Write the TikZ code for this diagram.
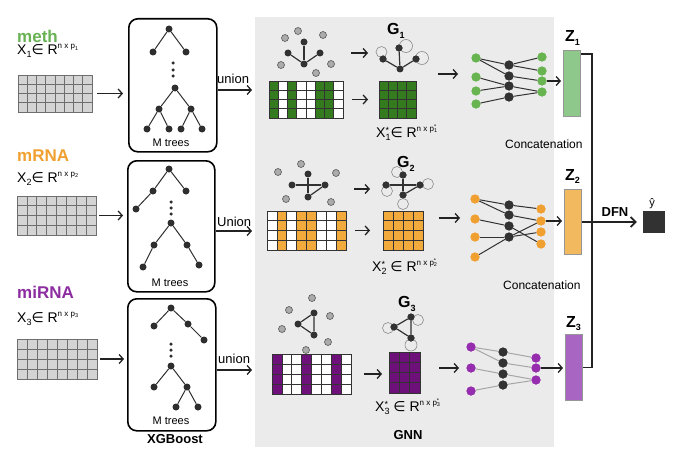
\documentclass[tikz,border=0pt]{standalone}
\usepackage{fontspec}
\setmainfont{Liberation Sans}
\newfontfamily\djv{DejaVu Sans}
\usetikzlibrary{arrows.meta}
\definecolor{treec}{RGB}{46,46,46}
\definecolor{arrc}{RGB}{34,34,34}
\definecolor{methc}{RGB}{104,178,84}
\definecolor{mrnac}{RGB}{240,160,48}
\definecolor{mirnac}{RGB}{140,44,160}
\definecolor{gridfill}{RGB}{212,212,212}
\definecolor{gridline}{RGB}{110,110,110}
\definecolor{panelc}{RGB}{235,235,235}
\definecolor{gmat}{RGB}{52,122,30}
\definecolor{omat}{RGB}{242,170,60}
\definecolor{pmat}{RGB}{110,16,122}
\definecolor{gnodec}{RGB}{104,180,80}
\definecolor{onodec}{RGB}{240,160,48}
\definecolor{pnodec}{RGB}{150,45,175}
\definecolor{zonec}{RGB}{142,200,138}
\definecolor{ztwoc}{RGB}{242,185,95}
\definecolor{zthreec}{RGB}{168,102,194}
\definecolor{zborder}{RGB}{150,150,150}
\definecolor{graphc}{RGB}{50,50,50}
\newcommand\fsz[1]{\fontsize{#1}{#1}\selectfont}
\newcommand\lowsub[1]{\raisebox{-3pt}{\fsz{9}#1}}
\newcommand\starsub[1]{\makebox[0pt][l]{\raisebox{4pt}{\fsz{9}*}}\raisebox{-3pt}{\fsz{9}#1}}
\newcommand\hisup[1]{\raisebox{6pt}{\fsz{8}#1}}
\newcommand\tinysub[1]{\raisebox{-1.5pt}{\fsz{5.5}#1}}
\newcommand\tinystarsub[1]{\makebox[0pt][l]{\raisebox{2.5pt}{\fsz{5.5}*}}\raisebox{-1.5pt}{\fsz{5.5}#1}}
\newcommand\gridlines[7]{%
  \pgfmathsetmacro\mgcw{#3/#5}%
  \pgfmathsetmacro\mgch{#4/#6}%
  \pgfmathtruncatemacro\mgnc{#5-1}%
  \pgfmathtruncatemacro\mgnr{#6-1}%
  \foreach \k in {1,...,\mgnc}{\draw[#7] ({#1+\k*\mgcw},#2) -- ({#1+\k*\mgcw},{#2+#4});}%
  \foreach \k in {1,...,\mgnr}{\draw[#7] (#1,{#2+\k*\mgch}) -- ({#1+#3},{#2+\k*\mgch});}%
  \draw[#7] (#1,#2) rectangle ({#1+#3},{#2+#4});}
\newcommand\colfill[7]{%
  \pgfmathsetmacro\mgcw{#3/#5}%
  \foreach \k in {#6}{\fill[#7] ({#1+(\k-1)*\mgcw},#2) rectangle ({#1+\k*\mgcw},{#2+#4});}}
\newcommand\matnode[6]{%
  \node[fill=#6, inner sep=0pt, outer sep=0pt, anchor=north west, minimum width=#4pt, minimum height=#5pt] (#1) at (#2,#3) {};}
\begin{document}
\begin{tikzpicture}[x=1pt,y=-1pt,
  tn/.style={circle, fill=treec, inner sep=0pt, minimum size=7pt},
  tdot/.style={circle, fill=treec, inner sep=0pt, minimum size=3.5pt},
  te/.style={draw=treec, line width=1pt},
  boxst/.style={draw=black, line width=1.6pt, rounded corners=9pt, inner sep=0pt, anchor=north west},
  arr/.style={draw=arrc, line width=1.3pt, -{Straight Barb[length=4pt,width=9pt]}},
  gl/.style={draw=gridline, line width=0.7pt},
  cl/.style={draw=black!80, line width=0.6pt},
  gn/.style={circle, fill=graphc, inner sep=0pt, minimum size=7pt},
  gg/.style={circle, fill=black!33, draw=black!65, line width=0.6pt, inner sep=0pt, minimum size=7pt},
  ge/.style={draw=graphc, line width=1.2pt},
  lp/.style={draw=black!45, line width=0.6pt},
  nn/.style={circle, fill=#1, inner sep=0pt, minimum size=9pt},
  ne/.style={draw=graphc, line width=1pt},
  nel/.style={draw=black!35, line width=1pt},
  zbar/.style={draw=zborder, line width=1pt, inner sep=0pt, anchor=north west, minimum width=17pt, fill=#1},
  txt/.style={inner sep=0pt, anchor=base west},
  ctxt/.style={inner sep=0pt, anchor=base},
]
\useasboundingbox (0,0) rectangle (680,460);
% panel
\node[fill=panelc, inner sep=0pt, anchor=north west, minimum width=299pt, minimum height=430pt] (panel) at (255,17) {};

% ---------- left labels ----------
\node[txt, font=\fsz{17}\bfseries, text=methc] (lmeth) at (17,43) {meth};
\node[txt, font=\fsz{14}] (lx1) at (17,55) {X\lowsub{1}{\djv ∈} R\hisup{n x p\tinysub{1}}};
\node[txt, font=\fsz{17}\bfseries, text=mrnac] (lmrna) at (17,161) {mRNA};
\node[txt, font=\fsz{14}] (lx2) at (17,182) {X\lowsub{2}{\djv ∈} R\hisup{n x p\tinysub{2}}};
\node[txt, font=\fsz{17}\bfseries, text=mirnac] (lmirna) at (17,298) {miRNA};
\node[txt, font=\fsz{14}] (lx3) at (17,322) {X\lowsub{3}{\djv ∈} R\hisup{n x p\tinysub{3}}};

% ---------- input grids ----------
\matnode{g1}{18}{75}{74}{37}{gridfill}
\gridlines{18}{75}{74}{37}{8}{4}{gl}
\matnode{g2}{17}{196}{79}{39}{gridfill}
\gridlines{17}{196}{79}{39}{8}{4}{gl}
\matnode{g3}{17}{339}{80}{40}{gridfill}
\gridlines{17}{339}{80}{40}{8}{4}{gl}

% ---------- tree boxes ----------
\node[boxst, minimum width=88pt, minimum height=133pt] (box1) at (128,18) {};
\node[boxst, minimum width=87pt, minimum height=131pt] (box2) at (127,160) {};
\node[boxst, minimum width=88pt, minimum height=132pt] (box3) at (127,298) {};

\draw[arr, shorten <=5pt, shorten >=5pt] (g1.east) -- (g1.east -| box1.west);
\draw[arr, shorten <=3pt, shorten >=4pt] (g2.east) -- (g2.east -| box2.west);
\draw[arr, shorten <=3pt, shorten >=3pt] (g3.east) -- (g3.east -| box3.west);

% tree 1
\node[tn] (a1) at (169,29) {}; \node[tn] (a2) at (153,52) {}; \node[tn] (a3) at (186,52) {};
\node[tdot] (ad1) at (173,63) {}; \node[tdot] (ad2) at (173,70) {}; \node[tdot] (ad3) at (173,76) {};
\node[tn] (b1) at (175,88) {}; \node[tn] (b2) at (159,109) {}; \node[tn] (b3) at (191,109) {};
\node[tn] (b4) at (147,129) {}; \node[tn] (b5) at (169,129) {}; \node[tn] (b6) at (181,129) {}; \node[tn] (b7) at (202,129) {};
\draw[te] (a2) -- (a1) -- (a3);
\draw[te] (b2) -- (b1) -- (b3);
\draw[te] (b4) -- (b2) -- (b5);
\draw[te] (b6) -- (b3) -- (b7);
\node[ctxt, font=\fsz{11}] (mt1) at (171,146) {M trees};

% tree 2
\node[tn] (c1) at (169,169) {}; \node[tn] (c2) at (153,191) {}; \node[tn] (c3) at (186,191) {}; \node[tn] (c4) at (136,209) {};
\node[tdot] (cd1) at (171,202) {}; \node[tdot] (cd2) at (171,208) {}; \node[tdot] (cd3) at (171,214) {};
\node[tn] (d1) at (171,223) {}; \node[tn] (d2) at (154,245) {}; \node[tn] (d3) at (187,245) {};
\node[tn] (d4) at (143,267) {}; \node[tn] (d5) at (199,265) {};
\draw[te] (c4) -- (c2) -- (c1) -- (c3);
\draw[te] (d4) -- (d2) -- (d1) -- (d3) -- (d5);
\node[ctxt, font=\fsz{11}] (mt2) at (170,286) {M trees};

% tree 3
\node[tn] (e1) at (171,308) {}; \node[tn] (e2) at (154,326) {}; \node[tn] (e3) at (188,324) {}; \node[tn] (e4) at (204,340) {};
\node[tdot] (ed1) at (171,344) {}; \node[tdot] (ed2) at (171,350) {}; \node[tdot] (ed3) at (171,356) {};
\node[tn] (f1) at (171,366) {}; \node[tn] (f2) at (154,387) {}; \node[tn] (f3) at (187,387) {};
\node[tn] (f4) at (176,407) {}; \node[tn] (f5) at (198,407) {};
\draw[te] (e2) -- (e1) -- (e3) -- (e4);
\draw[te] (f2) -- (f1) -- (f3) -- (f4);
\draw[te] (f3) -- (f5);
\node[ctxt, font=\fsz{11}] (mt3) at (171,424) {M trees};
\node[ctxt, font=\fsz{13}\bfseries] (xgb) at (175,443) {XGBoost};

% union arrows
\coordinate (u1) at (230,90);
\coordinate (u2) at (230,231);
\coordinate (u3) at (230,370);
\draw[arr, shorten >=3pt] (box1.east |- u1) -- (panel.west |- u1);
\draw[arr, shorten >=3pt] (box2.east |- u2) -- (panel.west |- u2);
\draw[arr, shorten >=3pt] (box3.east |- u3) -- (panel.west |- u3);
\node[txt, font=\fsz{13}] (un1) at (217,83) {union};
\node[txt, font=\fsz{13}] (un2) at (217,226) {Union};
\node[txt, font=\fsz{13}] (un3) at (218,363) {union};

% ---------- GNN row 1 ----------
\node[gg] (p1a) at (298,31) {}; \node[gg] (p1b) at (285,38) {}; \node[gg] (p1c) at (323,35) {};
\node[gg] (p1d) at (281,65) {}; \node[gg] (p1e) at (331,64) {}; \node[gg] (p1f) at (316,73) {};
\node[gn] (q1t) at (304,42) {}; \node[gn] (q1l) at (288,53) {}; \node[gn] (q1r) at (320,53) {}; \node[gn] (q1b) at (304,64) {};
\draw[ge] (q1b) -- (q1t); \draw[ge] (q1b) -- (q1l); \draw[ge] (q1b) -- (q1r);
\coordinate (s1a) at (351,53); \coordinate (s1b) at (368,53);
\draw[arr] (s1a) -- (s1b);
\node[txt, font=\fsz{16}\bfseries] (G1) at (387,35) {G\raisebox{-4pt}{\fsz{9}\bfseries 1}};
\node[gn] (h1t) at (399,48) {}; \node[gn] (h1l) at (383,59) {}; \node[gn] (h1r) at (416,59) {}; \node[gn] (h1b) at (400,69) {};
\draw[lp] (381.5,52) circle (5.5pt);
\draw[lp] (406,46) circle (6.5pt);
\draw[lp] (422,58) circle (6.5pt);
\draw[ge] (h1b) -- (h1t); \draw[ge] (h1b) -- (h1l); \draw[ge] (h1b) -- (h1r);
\node[gn] at (h1t) {}; \node[gn] at (h1l) {}; \node[gn] at (h1r) {};

\matnode{m1}{269}{81}{74}{37}{white}
\colfill{269}{81}{74}{37}{8}{1,3,6,7}{gmat}
\gridlines{269}{81}{74}{37}{8}{4}{cl}
\matnode{k1}{379}{81}{37}{37}{gmat}
\gridlines{379}{81}{37}{37}{4}{4}{cl}
\draw[arr, shorten <=9pt, shorten >=11pt] (m1.east) -- (m1.east -| k1.west);
\node[txt, font=\fsz{14}] (xs1) at (376,137) {X\starsub{1}{\djv ∈} R\hisup{n x p\tinystarsub{1}}};

\coordinate (r1a) at (438,74); \coordinate (r1b) at (458,74);
\draw[arr] (r1a) -- (r1b);

% NN 1
\node[nn=gnodec] (n1i1) at (476,58) {}; \node[nn=gnodec] (n1i2) at (476,77) {};
\node[nn=gnodec] (n1i3) at (476,91) {}; \node[nn=gnodec] (n1i4) at (476,104) {};
\node[nn=graphc] (n1h1) at (509,65) {}; \node[nn=graphc] (n1h2) at (509,76) {};
\node[nn=graphc] (n1h3) at (509,86) {}; \node[nn=graphc] (n1h4) at (509,97) {};
\node[nn=gnodec] (n1o1) at (542,57) {}; \node[nn=gnodec] (n1o2) at (542,71) {};
\node[nn=gnodec] (n1o3) at (542,81) {}; \node[nn=gnodec] (n1o4) at (542,92) {};
\begin{scope}[on background layer/.style={}]
\draw[ne] (n1i1) -- (n1h1); \draw[ne] (n1i1) -- (n1h2); \draw[ne] (n1i2) -- (n1h3);
\draw[ne] (n1i3) -- (n1h3); \draw[ne] (n1i4) -- (n1h4);
\draw[ne] (n1h1) -- (n1o1); \draw[ne] (n1h1) -- (n1o2); \draw[ne] (n1h2) -- (n1o3);
\draw[ne] (n1h3) -- (n1o4); \draw[ne] (n1h4) -- (n1o4);
\end{scope}
\foreach \n in {n1i1,n1i2,n1i3,n1i4,n1o1,n1o2,n1o3,n1o4} {\node[nn=gnodec] at (\n) {};}
\foreach \n in {n1h1,n1h2,n1h3,n1h4} {\node[nn=graphc] at (\n) {};}

% ---------- GNN row 2 ----------
\node[gg] (p2a) at (301,164) {}; \node[gg] (p2b) at (278,172) {}; \node[gg] (p2c) at (336,173) {};
\node[gg] (p2d) at (286,199) {}; \node[gg] (p2e) at (331,202) {};
\node[gn] (q2t) at (308,174) {}; \node[gn] (q2l) at (292,185) {}; \node[gn] (q2r) at (325,185) {}; \node[gn] (q2b) at (308,197) {};
\draw[ge] (q2l) -- (q2r); \draw[ge] (q2t) -- (q2b); \draw[ge] (q2b) -- (q2r);
\coordinate (s2a) at (354,189); \coordinate (s2b) at (370,189);
\draw[arr] (s2a) -- (s2b);
\node[txt, font=\fsz{16}\bfseries] (G2) at (397,167) {G\raisebox{-4pt}{\fsz{9}\bfseries 2}};
\node[gn] (h2t) at (403,175) {}; \node[gn] (h2l) at (386,185) {}; \node[gn] (h2r) at (420,185) {}; \node[gn] (h2b) at (403,195) {};
\draw[lp] (397,172) circle (5.5pt);
\draw[lp] (387,191) circle (5.5pt);
\draw[lp] (428,184) circle (5.5pt);
\draw[lp] (403,204) circle (5.5pt);
\draw[ge] (h2l) -- (h2r); \draw[ge] (h2t) -- (h2b); \draw[ge] (h2b) -- (h2r);
\foreach \n in {h2t,h2l,h2r,h2b} {\node[gn] at (\n) {};}

\matnode{m2}{267}{211}{79}{39}{white}
\colfill{267}{211}{79}{39}{8}{2,4,5,8}{omat}
\gridlines{267}{211}{79}{39}{8}{4}{cl}
\matnode{k2}{383}{211}{40}{39}{omat}
\gridlines{383}{211}{40}{39}{4}{4}{cl}
\draw[arr, shorten <=9pt, shorten >=13pt] (m2.east) -- (m2.east -| k2.west);
\node[txt, font=\fsz{14}] (xs2) at (372,271) {X\starsub{2} {\djv ∈} R\hisup{n x p\tinystarsub{2}}};

\coordinate (r2a) at (439,218); \coordinate (r2b) at (460,218);
\draw[arr] (r2a) -- (r2b);

% NN 2
\node[nn=onodec] (n2i1) at (475,199) {}; \node[nn=onodec] (n2i2) at (475,219) {};
\node[nn=onodec] (n2i3) at (475,237) {}; \node[nn=onodec] (n2i4) at (475,257) {};
\node[nn=graphc] (n2h1) at (509,205) {}; \node[nn=graphc] (n2h2) at (509,215) {};
\node[nn=graphc] (n2h3) at (509,226) {}; \node[nn=graphc] (n2h4) at (509,237) {};
\node[nn=onodec] (n2o1) at (541,209) {}; \node[nn=onodec] (n2o2) at (541,221) {};
\node[nn=onodec] (n2o3) at (541,232) {}; \node[nn=onodec] (n2o4) at (541,244) {};
\draw[ne] (n2i1) -- (n2h1); \draw[ne] (n2i1) -- (n2h2); \draw[ne] (n2i2) -- (n2h3);
\draw[ne] (n2i3) -- (n2h4); \draw[ne] (n2i4) -- (n2h4);
\draw[ne] (n2h1) -- (n2o1); \draw[ne] (n2h2) -- (n2o2); \draw[ne] (n2h3) -- (n2o4);
\draw[ne] (n2h4) -- (n2o3); \draw[ne] (n2h4) -- (n2o2);
\foreach \n in {n2i1,n2i2,n2i3,n2i4,n2o1,n2o2,n2o3,n2o4} {\node[nn=onodec] at (\n) {};}
\foreach \n in {n2h1,n2h2,n2h3,n2h4} {\node[nn=graphc] at (\n) {};}

% ---------- GNN row 3 ----------
\node[gg] (p3a) at (312,298) {}; \node[gg] (p3b) at (289,310) {}; \node[gg] (p3c) at (330,316) {};
\node[gg] (p3d) at (282,329) {}; \node[gg] (p3e) at (328,342) {}; \node[gg] (p3f) at (306,350) {};
\node[gn] (q3t) at (314,313) {}; \node[gn] (q3l) at (298,324) {}; \node[gn] (q3b) at (314,335) {};
\draw[ge] (q3t) -- (q3l) -- (q3b) -- (q3t);
\node[txt, font=\fsz{16}\bfseries] (G3) at (398,307) {G\raisebox{-4pt}{\fsz{9}\bfseries 3}};
\node[gn] (h3t) at (411,317) {}; \node[gn] (h3l) at (394,327) {}; \node[gn] (h3b) at (411,338) {};
\draw[lp] (418,320) circle (5.5pt);
\draw[lp] (388,328) circle (5.5pt);
\draw[lp] (411,345) circle (6pt);
\draw[ge] (h3t) -- (h3l) -- (h3b) -- (h3t);
\foreach \n in {h3t,h3l,h3b} {\node[gn] at (\n) {};}

\matnode{m3}{272}{354}{79}{40}{white}
\colfill{272}{354}{79}{40}{8}{1,4,7}{pmat}
\gridlines{272}{354}{79}{40}{8}{4}{cl}
\matnode{k3}{389}{352}{31}{41}{pmat}
\gridlines{389}{352}{31}{41}{3}{4}{cl}
\draw[arr, shorten <=13pt, shorten >=7pt] (m3.east) -- (m3.east -| k3.west);
\node[txt, font=\fsz{14}] (xs3) at (375,411) {X\starsub{3} {\djv ∈} R\hisup{n x p\tinystarsub{3}}};
\node[ctxt, font=\fsz{13}\bfseries] (gnn) at (408,439) {GNN};

\coordinate (r3a) at (439,368); \coordinate (r3b) at (459,368);
\draw[arr] (r3a) -- (r3b);

% NN 3
\node[nn=pnodec] (n3i1) at (471,347) {}; \node[nn=pnodec] (n3i2) at (471,368) {}; \node[nn=pnodec] (n3i3) at (471,391) {};
\node[nn=graphc] (n3h1) at (503,352) {}; \node[nn=graphc] (n3h2) at (503,363) {};
\node[nn=graphc] (n3h3) at (503,374) {}; \node[nn=graphc] (n3h4) at (503,385) {};
\node[nn=pnodec] (n3o1) at (536,358) {}; \node[nn=pnodec] (n3o2) at (536,368) {}; \node[nn=pnodec] (n3o3) at (536,380) {};
\draw[nel] (n3i1) -- (n3h1); \draw[nel] (n3i1) -- (n3h2); \draw[nel] (n3i2) -- (n3h3); \draw[nel] (n3i3) -- (n3h4);
\draw[nel] (n3h1) -- (n3o1); \draw[nel] (n3h2) -- (n3o2); \draw[nel] (n3h3) -- (n3o3); \draw[nel] (n3h4) -- (n3o3);
\foreach \n in {n3i1,n3i2,n3i3,n3o1,n3o2,n3o3} {\node[nn=pnodec] at (\n) {};}
\foreach \n in {n3h1,n3h2,n3h3,n3h4} {\node[nn=graphc] at (\n) {};}

% ---------- Z bars ----------
\node[zbar=zonec, minimum height=66pt] (z1) at (563,50) {};
\node[zbar=ztwoc, minimum height=65pt] (z2) at (564,189) {};
\node[zbar=zthreec, minimum height=66pt] (z3) at (565,334) {};
\node[txt, font=\fsz{16}\bfseries] (Z1) at (565,42) {Z\raisebox{-3pt}{\fsz{9}\bfseries 1}};
\node[txt, font=\fsz{16}\bfseries] (Z2) at (565,180) {Z\raisebox{-3pt}{\fsz{9}\bfseries 2}};
\node[txt, font=\fsz{16}\bfseries] (Z3) at (566,327) {Z\raisebox{-3pt}{\fsz{9}\bfseries 3}};

\draw[arr, shorten >=2pt] (n1o3) -- (n1o3 -| z1.west);
\draw[arr, shorten >=2pt] (n2o2) -- (n2o2 -| z2.west);
\draw[arr, shorten >=2pt] (n3o2) -- (n3o2 -| z3.west);

\node[txt, font=\fsz{12}] (cc1) at (505,148) {Concatenation};
\node[txt, font=\fsz{12}] (cc2) at (503,289) {Concatenation};

\coordinate (bx) at (592,220);
\draw[draw=arrc, line width=1.2pt] ([yshift=-4pt]z1.north east) -| (bx) |- (z3.east);

% output
\node[fill=graphc, inner sep=0pt, minimum size=22pt] (yhat) at (654,222) {};
\draw[draw=arrc, line width=1.8pt, -{Straight Barb[length=5pt,width=10pt]}, shorten >=6pt] (z2.east) -- (yhat.west);
\node[ctxt, font=\fsz{13}\bfseries] (dfn) at (615,216) {DFN};
\node[ctxt, font=\fsz{11}] (yl) at (652,206) {ŷ};
\end{tikzpicture}
\end{document}
